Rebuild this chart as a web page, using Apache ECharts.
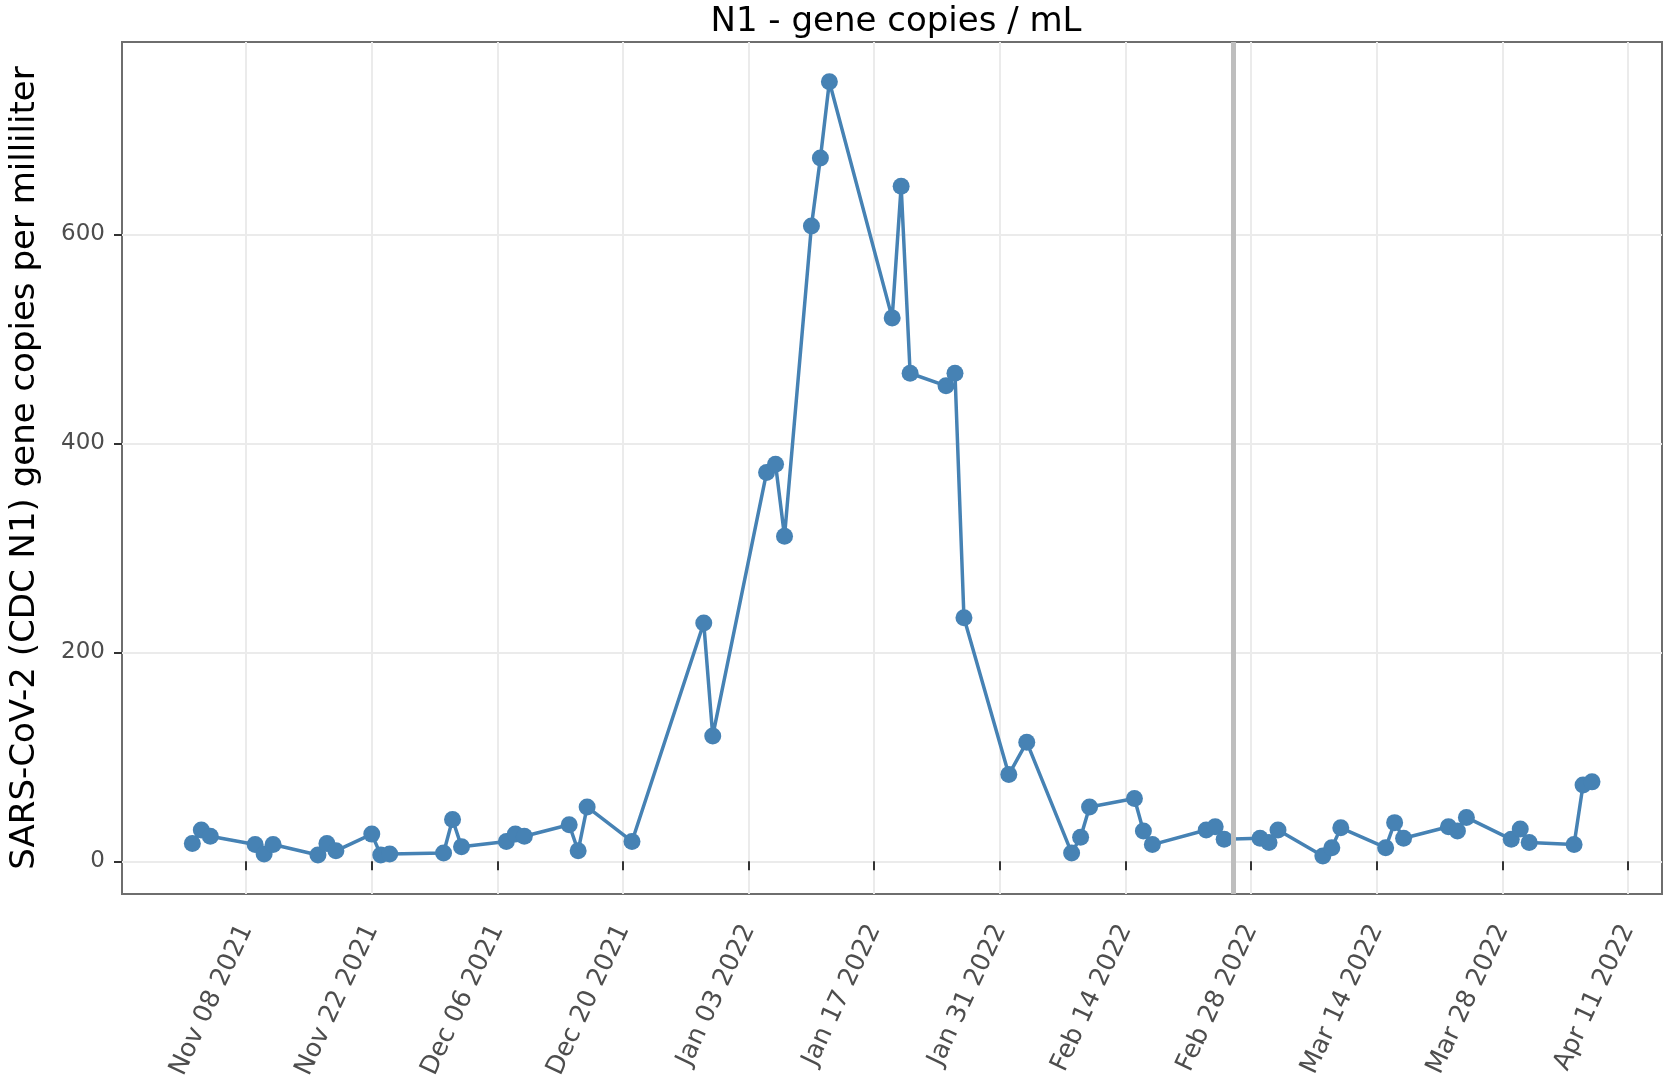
<!DOCTYPE html>
<html><head><meta charset="utf-8">
<script src="https://cdn.jsdelivr.net/npm/echarts@6/dist/echarts.min.js"></script>
<style>html,body{margin:0;padding:0;background:#fff}#c{width:1665px;height:1085px}</style>
</head><body><div id="c"></div>
<script>
const dates = ['2021-11-02','2021-11-03','2021-11-04','2021-11-09','2021-11-10','2021-11-11','2021-11-16','2021-11-17','2021-11-18','2021-11-22','2021-11-23','2021-11-24','2021-11-30','2021-12-01','2021-12-02','2021-12-07','2021-12-08','2021-12-09','2021-12-14','2021-12-15','2021-12-16','2021-12-21','2021-12-29','2021-12-30','2022-01-05','2022-01-06','2022-01-07','2022-01-10','2022-01-11','2022-01-12','2022-01-19','2022-01-20','2022-01-21','2022-01-25','2022-01-26','2022-01-27','2022-02-01','2022-02-03','2022-02-08','2022-02-09','2022-02-10','2022-02-15','2022-02-16','2022-02-17','2022-02-23','2022-02-24','2022-02-25','2022-03-01','2022-03-02','2022-03-03','2022-03-08','2022-03-09','2022-03-10','2022-03-15','2022-03-16','2022-03-17','2022-03-22','2022-03-23','2022-03-24','2022-03-29','2022-03-30','2022-03-31','2022-04-05','2022-04-06','2022-04-07'];
const values = [17,30,24,16,7,16,6,17,10,26,6,7,8,40,14,19,26,24,35,10,52,19,228,120,372,380,311,608,673,746,520,646,467,455,467,233,83,114,8,23,52,60,29,16,30,33,21,22,18,30,5,13,32,13,37,22,33,29,42,21,31,18,16,73,76];
const xTickDates = ['2021-11-08','2021-11-22','2021-12-06','2021-12-20','2022-01-03','2022-01-17','2022-01-31','2022-02-14','2022-02-28','2022-03-14','2022-03-28','2022-04-11'];
const yTicks = [0,200,400,600];
const refDate = '2022-02-26';
const titleText = 'N1 - gene copies / mL';
const yTitle = 'SARS-CoV-2 (CDC N1) gene copies per milliliter';

function ts(s){const p=s.split('-').map(Number);return Date.UTC(p[0],p[1]-1,p[2]);}
const DAY = 864e5;
const xMin = ts('2021-11-08') - 13.84*DAY;
const xMax = ts('2021-11-08') + 157.8*DAY;
const months = ['Jan','Feb','Mar','Apr','May','Jun','Jul','Aug','Sep','Oct','Nov','Dec'];
function fmt(v){const d=new Date(v);return months[d.getUTCMonth()]+' '+String(d.getUTCDate()).padStart(2,'0')+' '+d.getUTCFullYear();}
const FONT = 'Verdana, "DejaVu Sans", sans-serif';

const chart = echarts.init(document.getElementById('c'));
chart.setOption({
  animation:false,
  backgroundColor:'#fff',
  textStyle:{fontFamily:FONT},
  title:{text:titleText,left:891,textAlign:'center',top:0,textStyle:{fontFamily:FONT,fontSize:34,fontWeight:'normal',color:'#000'}},
  grid:{left:121,right:3,top:42,bottom:191,show:true,borderColor:'#6e6e6e',borderWidth:2,backgroundColor:'transparent'},
  xAxis:{type:'value',min:xMin,max:xMax,
    axisLine:{show:false},
    axisTick:{show:true,length:9,lineStyle:{color:'#333',width:2},customValues:xTickDates.map(ts)},
    axisLabel:{customValues:xTickDates.map(ts),formatter:fmt,rotate:65,fontSize:25.5,color:'#4d4d4d',margin:32,fontFamily:FONT},
    splitLine:{show:true,lineStyle:{color:'#ebebeb',width:2}}
  },
  yAxis:{type:'value',min:-31.3,max:784,
    name:yTitle,nameLocation:'middle',nameGap:80,nameRotate:90,
    nameTextStyle:{fontSize:34,color:'#000',fontFamily:FONT},
    axisLine:{show:false},
    axisTick:{show:true,length:8,lineStyle:{color:'#333',width:2},customValues:yTicks},
    axisLabel:{customValues:yTicks,fontSize:23,color:'#4d4d4d',margin:17,fontFamily:FONT},
    splitLine:{show:true,lineStyle:{color:'#ebebeb',width:2}}
  },
  series:[{
    type:'line',
    data:dates.map((d,i)=>[ts(d),values[i]]),
    symbol:'circle',symbolSize:17,
    lineStyle:{color:'#4682b4',width:3.5},
    itemStyle:{color:'#4682b4'},
    markLine:{silent:true,symbol:'none',label:{show:false},lineStyle:{color:'#bebebe',width:5,type:'solid'},data:[{xAxis:ts(refDate)}]},
    z:3
  }]
});
</script></body></html>
